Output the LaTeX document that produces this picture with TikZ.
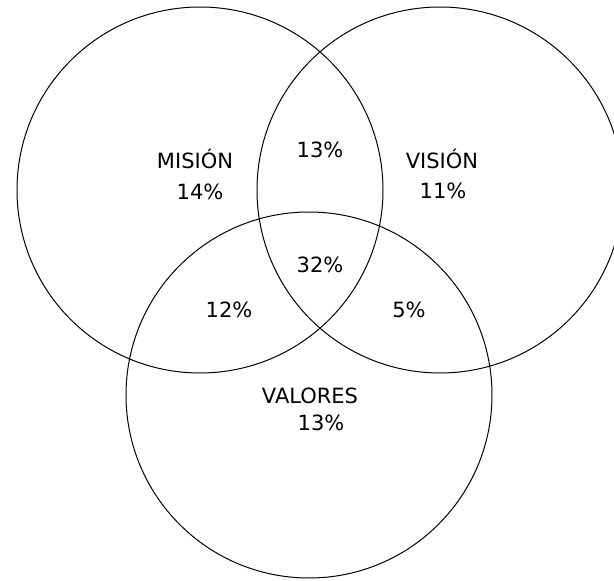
\documentclass[tikz,border=0pt]{standalone}
\usepackage{fontspec}
\setmainfont{DejaVu Sans}
\begin{document}
\begin{tikzpicture}[x=1pt,y=-1pt,
  ring/.style={draw=black,line width=1pt},
  lbl/.style={anchor=base,inner sep=0pt,font=\fontsize{21}{25}\selectfont}]
\useasboundingbox (0,0) rectangle (614,581);
\clip (0,0) rectangle (614,581);
\fill[white] (0,0) rectangle (614,581);
\draw[ring] (200,190) circle[radius=183];
\draw[ring] (440,190) circle[radius=183];
\draw[ring] (309,395) circle[radius=183];
\node[lbl] (mision) at (195,168) {MISIÓN};
\node[lbl] (misionp) at (200,199) {14\%};
\node[lbl] (vision) at (442,168) {VISIÓN};
\node[lbl] (visionp) at (443,198) {11\%};
\node[lbl] (mv) at (320,157) {13\%};
\node[lbl] (all) at (320,272) {32\%};
\node[lbl] (mval) at (229,317) {12\%};
\node[lbl] (vval) at (409,317) {5\%};
\node[lbl] (valores) at (310,403) {VALORES};
\node[lbl] (valoresp) at (321,430) {13\%};
\end{tikzpicture}
\end{document}
